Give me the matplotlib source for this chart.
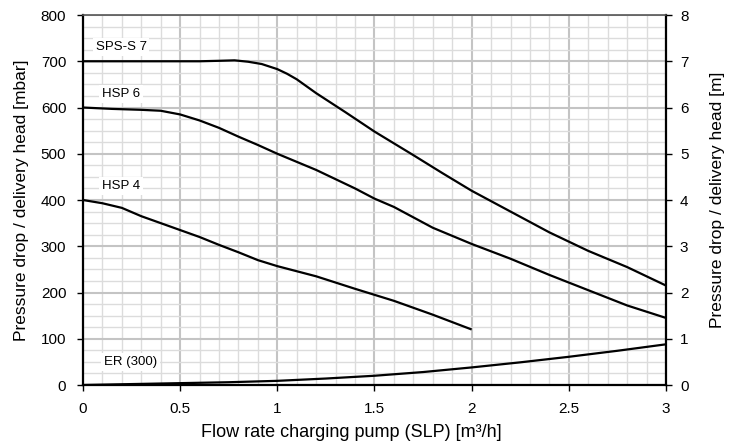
import matplotlib
matplotlib.use("Agg")
import matplotlib.pyplot as plt
from matplotlib.ticker import MultipleLocator

plt.rcParams['font.family'] = ['Liberation Sans', 'DejaVu Sans']

# flow rate [m3/h] and pressure drop [mbar]
sps_x = [0, 0.2, 0.4, 0.6, 0.7, 0.78, 0.85, 0.92, 1.0, 1.05, 1.1, 1.2, 1.35, 1.5, 1.7, 1.85, 2.0, 2.2, 2.4, 2.6, 2.8, 3.0]
sps_y = [700, 700, 700, 700, 701, 702, 699, 694, 683, 673, 661, 631, 590, 548, 497, 458, 420, 375, 330, 290, 255, 215]

hsp6_x = [0, 0.15, 0.3, 0.4, 0.5, 0.6, 0.7, 0.8, 0.9, 1.0, 1.2, 1.4, 1.5, 1.6, 1.8, 2.0, 2.2, 2.4, 2.6, 2.8, 3.0]
hsp6_y = [600, 597, 595, 593, 585, 572, 556, 537, 519, 500, 465, 425, 403, 385, 340, 305, 273, 238, 205, 172, 145]

hsp4_x = [0, 0.1, 0.2, 0.3, 0.4, 0.5, 0.6, 0.7, 0.8, 0.9, 1.0, 1.2, 1.4, 1.5, 1.6, 1.8, 2.0]
hsp4_y = [400, 393, 383, 365, 350, 335, 320, 303, 287, 270, 257, 235, 208, 195, 182, 152, 120]

er_x = [0, 0.25, 0.5, 0.75, 1.0, 1.25, 1.5, 1.75, 2.0, 2.25, 2.5, 2.75, 3.0]
er_y = [0, 2, 4, 6, 9, 14, 20, 28, 38, 49, 61, 74, 88]

labels = ["SPS-S 7", "HSP 6", "HSP 4", "ER (300)"]
label_pos = [(0.065, 731), (0.098, 629), (0.098, 430), (0.108, 50)]

fig = plt.figure(figsize=(7.33, 4.47), dpi=100)
ax = fig.add_axes([0.1132, 0.1387, 0.7954, 0.8277])

for xs, ys in [(sps_x, sps_y), (hsp6_x, hsp6_y), (hsp4_x, hsp4_y), (er_x, er_y)]:
    ax.plot(xs, ys, color='black', lw=1.6, zorder=3, solid_capstyle='butt')

for lab, (lx, ly) in zip(labels, label_pos):
    ax.text(lx, ly, lab, fontsize=9.5, va='center', ha='left', zorder=4,
            bbox=dict(facecolor='white', edgecolor='none', pad=2))

ax.set_xlim(0, 3)
ax.set_ylim(0, 800)
ax.xaxis.set_major_locator(MultipleLocator(0.5))
ax.xaxis.set_minor_locator(MultipleLocator(0.1))
ax.yaxis.set_major_locator(MultipleLocator(100))
ax.yaxis.set_minor_locator(MultipleLocator(25))
ax.grid(which='major', color='#c4c4c4', lw=1.5, zorder=0)
ax.grid(which='minor', color='#dcdcdc', lw=1.0, zorder=0)
ax.set_axisbelow(True)
ax.xaxis.set_major_formatter(matplotlib.ticker.FuncFormatter(lambda v, p: f"{v:g}"))

for s in ['left', 'bottom', 'right']:
    ax.spines[s].set_linewidth(1.6)
    ax.spines[s].set_color('black')
ax.spines['top'].set_color('#555555')
ax.spines['top'].set_linewidth(1.2)

ax.tick_params(which='major', direction='out', length=4, width=1, labelsize=11)
ax.tick_params(axis='y', pad=8)
ax.tick_params(axis='x', pad=8)
ax.tick_params(which='minor', length=0)
ax.set_xlabel('Flow rate charging pump (SLP) [m³/h]', fontsize=13)
ax.xaxis.set_label_coords(0.46, -0.105)
ax.set_ylabel('Pressure drop / delivery head [mbar]', fontsize=12.5)
ax.yaxis.set_label_coords(-0.093, 0.5)

ax2 = ax.twinx()
ax2.set_ylim(0, 8)
ax2.yaxis.set_major_locator(MultipleLocator(1))
ax2.tick_params(direction='out', length=4, width=1, labelsize=11, pad=6)
for s in ax2.spines.values():
    s.set_visible(False)
ax2.set_ylabel('Pressure drop / delivery head [m]', fontsize=12.5)
ax2.yaxis.set_label_coords(1.075, 0.5)

fig.savefig('out.png', dpi=100)
